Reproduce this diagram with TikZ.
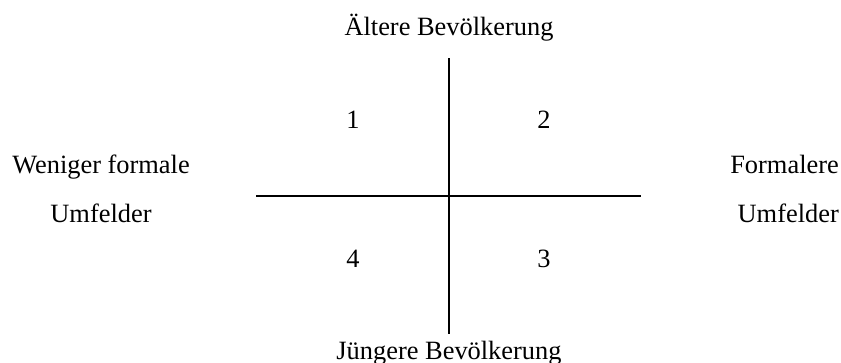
\documentclass[tikz,border=0pt]{standalone}
\usepackage{fontspec}
\setmainfont{Liberation Serif}
\begin{document}
\begin{tikzpicture}[x=1pt,y=-1pt,font=\fontsize{26.4}{30}\selectfont]
\useasboundingbox (0,0) rectangle (841,362);
\coordinate (oben) at (449,58);
\coordinate (unten) at (449,334);
\coordinate (links) at (256,196);
\coordinate (rechts) at (641,196);
\draw[line width=1.6pt] (oben) -- (unten);
\draw[line width=1.6pt] (links) -- (rechts);
\node[anchor=base] (aelter) at (449,35) {Ältere Bevölkerung};
\node[anchor=base] (juenger) at (449,359) {Jüngere Bevölkerung};
\node[anchor=base] (q1) at (353,128) {1};
\node[anchor=base] (q2) at (544,128) {2};
\node[anchor=base] (q3) at (544,267) {3};
\node[anchor=base] (q4) at (353,267) {4};
\node[anchor=base] (weniger) at (101,173) {Weniger formale};
\node[anchor=base] (wenigerU) at (101,222) {Umfelder};
\node[anchor=base east,inner sep=0pt] (formaler) at (839,173) {Formalere};
\node[anchor=base east,inner sep=0pt] (formalerU) at (839,222) {Umfelder};
\end{tikzpicture}
\end{document}
